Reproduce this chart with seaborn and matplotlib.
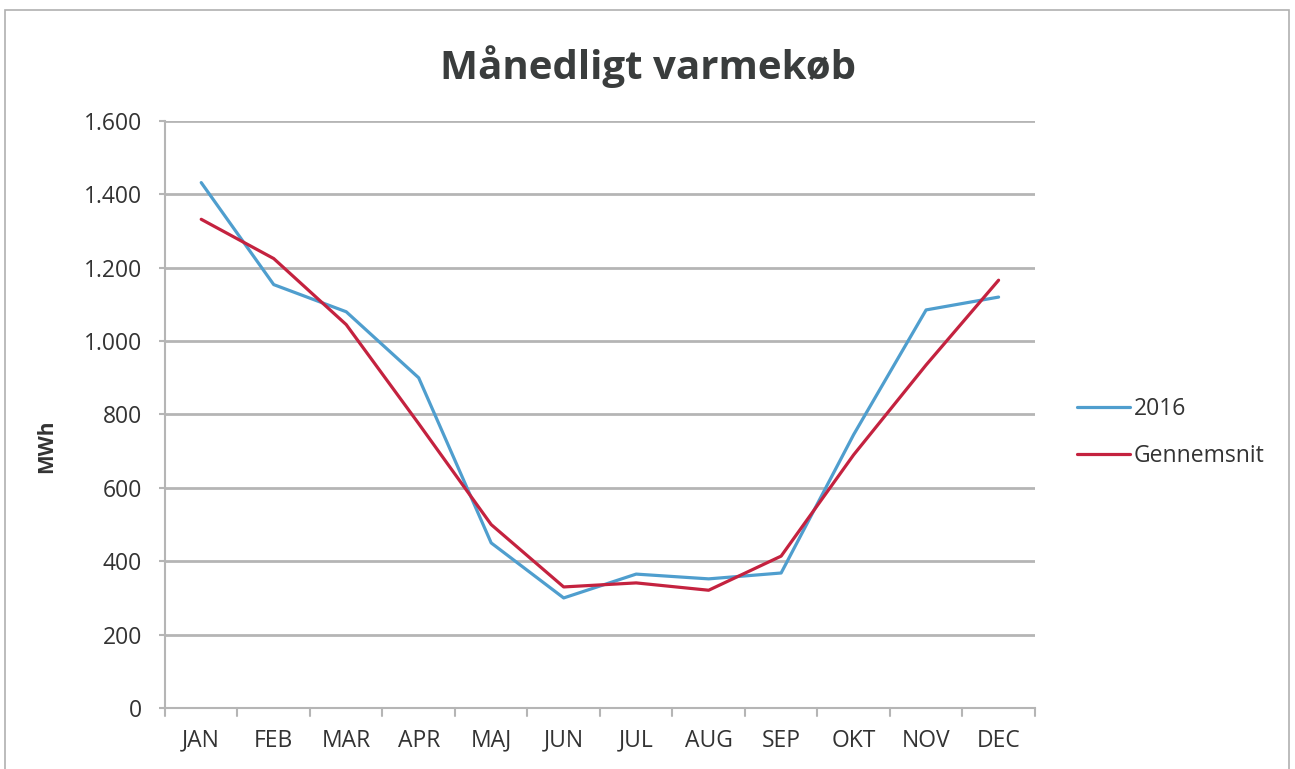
import matplotlib
matplotlib.use('Agg')
import matplotlib.pyplot as plt
import seaborn as sns
import pandas as pd

months = ['JAN', 'FEB', 'MAR', 'APR', 'MAJ', 'JUN', 'JUL', 'AUG', 'SEP', 'OKT', 'NOV', 'DEC']
vals_2016 = [1432, 1154, 1080, 900, 450, 300, 365, 352, 368, 745, 1085, 1120]
vals_avg = [1332, 1225, 1045, 775, 500, 330, 341, 321, 414, 690, 935, 1166]
series_names = ['2016', 'Gennemsnit']
y_ticks = [0, 200, 400, 600, 800, 1000, 1200, 1400, 1600]

df = pd.DataFrame({
    'måned': months * 2,
    'MWh': vals_2016 + vals_avg,
    'serie': [series_names[0]] * 12 + [series_names[1]] * 12,
})

sns.set_style('white')
plt.rcParams['font.family'] = ['Open Sans', 'DejaVu Sans']

TEXT = '#333333'
GRID = '#b5b5b5'
BLUE = '#4f9ece'
RED = '#c4223f'

fig = plt.figure(figsize=(12.95, 7.69), dpi=100)
ax = fig.add_axes([0.1274, 0.0793, 0.8427 - 0.1274 - 0.0436, 0.8427 - 0.0793])

sns.lineplot(data=df, x='måned', y='MWh', hue='serie', sort=False,
             palette={'2016': BLUE, 'Gennemsnit': RED},
             linewidth=2.3, ax=ax, legend=False)

ax.set_ylim(0, 1600)
ax.set_xlim(-0.5, len(months) - 0.5)
ax.set_yticks(y_ticks)
ax.set_yticklabels([f'{v:,}'.replace(',', '.') for v in y_ticks])
ax.set_xticks(range(len(months)))
ax.set_xticklabels(months)
ax.tick_params(axis='y', labelsize=16.5, colors=GRID, labelcolor=TEXT,
               length=4.5, width=1.5, pad=12, left=True)
ax.tick_params(axis='x', labelsize=16.5, labelcolor=TEXT, length=0, pad=15)
ax.yaxis.grid(True, color=GRID, linewidth=2)
ax.set_axisbelow(True)

# category boundary ticks on x axis
for b in [i - 0.5 for i in range(len(months) + 1)]:
    ax.plot([b, b], [0, -22], color=GRID, linewidth=1.5, clip_on=False)

for s in ['top', 'right']:
    ax.spines[s].set_visible(False)
for s in ['left', 'bottom']:
    ax.spines[s].set_color(GRID)
    ax.spines[s].set_linewidth(1.5)

ax.set_xlabel('')
ax.set_ylabel('MWh', fontsize=15, fontweight='bold', color=TEXT)
ax.yaxis.set_label_coords(-0.124, 0.446)

fig.text(0.5, 0.914, 'Månedligt varmekøb', ha='center', va='center',
         fontsize=29, fontweight='bold', color='#3a3d3d')

handles = [plt.Line2D([], [], color=BLUE, linewidth=2.3),
           plt.Line2D([], [], color=RED, linewidth=2.3)]
fig.legend(handles, series_names, loc='center left', bbox_to_anchor=(0.816, 0.437),
           frameon=False, fontsize=16.5, labelcolor=TEXT, handlelength=2.3,
           handletextpad=0.15, labelspacing=1.0)

# outer chart border
fig.add_artist(plt.Rectangle((0.004, -0.01), 0.991, 0.997, transform=fig.transFigure,
                             fill=False, edgecolor='#b0b0b0', linewidth=1.2))

fig.savefig('out.png', dpi=100)
